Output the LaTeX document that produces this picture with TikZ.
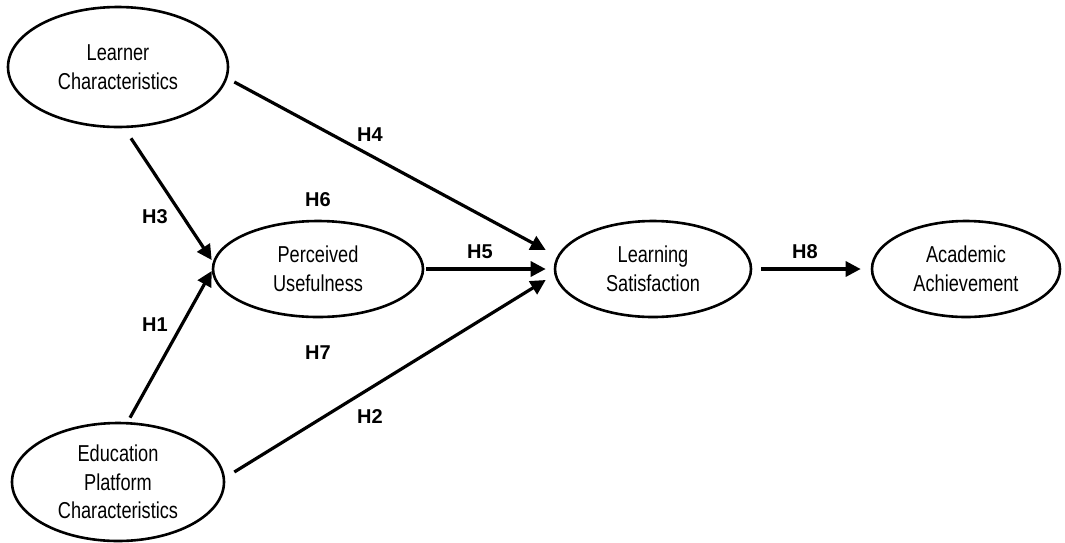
\documentclass[tikz,border=0pt]{standalone}
\usepackage{fontspec}
\setmainfont{Liberation Sans}
\newfontfamily\nodefont{Liberation Sans}[FakeStretch=0.79]
\usetikzlibrary{shapes.geometric,arrows.meta}
\tikzset{
  construct/.style={ellipse, draw, line width=2.6pt, inner sep=0pt, align=center,
    font=\nodefont\fontsize{23}{28.5}\selectfont},
  arr/.style={line width=3.2pt, -{Triangle[length=15pt,width=15pt]}},
  hyp/.style={font=\bfseries\fontsize{20}{22}\selectfont, inner sep=0pt}
}
\begin{document}
\begin{tikzpicture}[x=1pt,y=-1pt]
\useasboundingbox (0,0) rectangle (1065,542);
\node[construct, minimum width=220pt, minimum height=120pt] (lc) at (118,67) {Learner\\Characteristics};
\node[construct, minimum width=212pt, minimum height=118pt] (epc) at (118,482) {Education\\Platform\\Characteristics};
\node[construct, minimum width=210pt, minimum height=96pt] (pu) at (318,269) {Perceived\\Usefulness};
\node[construct, minimum width=196pt, minimum height=96pt] (ls) at (653,269) {Learning\\Satisfaction};
\node[construct, minimum width=188pt, minimum height=96pt] (aa) at (966,269) {Academic\\Achievement};

\draw[arr] ([shift={(5pt,-15pt)}]lc.east) -- ([shift={(-8pt,19pt)}]ls.west);
\draw[arr] ([shift={(13pt,-10pt)}]lc.south) -- ([yshift=9pt]pu.west);
\draw[arr] ([shift={(12pt,4pt)}]epc.north) -- ([yshift=-2pt]pu.west);
\draw[arr] ([xshift=2pt]pu.east) -- ([xshift=-8pt]ls.west);
\draw[arr] ([shift={(9pt,10pt)}]epc.east) -- ([shift={(-8pt,-11pt)}]ls.west);
\draw[arr] ([xshift=9pt]ls.east) -- ([xshift=-10pt]aa.west);

\node[hyp] (h4) at (370,135) {H4};
\node[hyp] (h3) at (155,217) {H3};
\node[hyp] (h6) at (318,200) {H6};
\node[hyp] (h5) at (480,252) {H5};
\node[hyp] (h8) at (805,252) {H8};
\node[hyp] (h1) at (155,325) {H1};
\node[hyp] (h7) at (318,353) {H7};
\node[hyp] (h2) at (370,417) {H2};
\end{tikzpicture}
\end{document}
